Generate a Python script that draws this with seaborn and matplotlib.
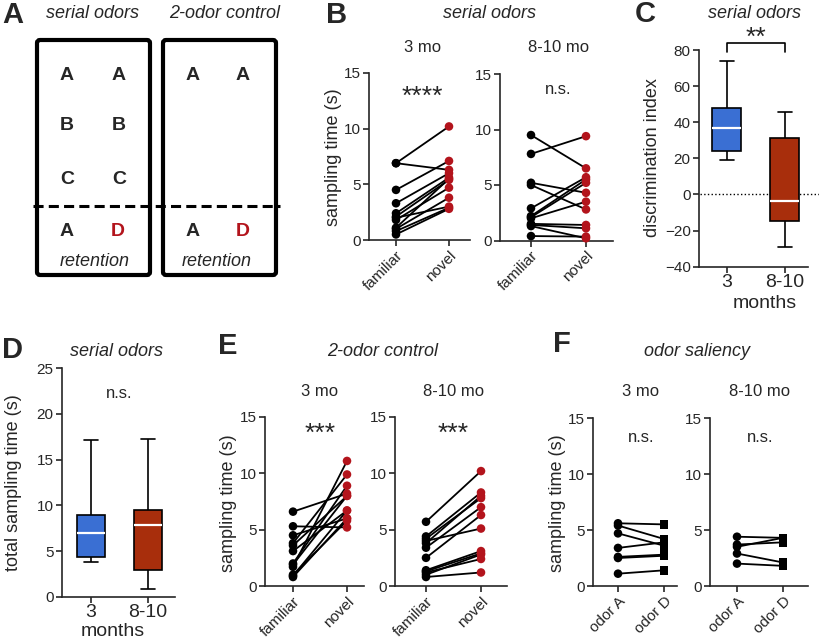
import pandas as pd
import matplotlib.pyplot as plt
import seaborn as sns
from matplotlib.patches import FancyBboxPatch

sns.set_style('ticks')
plt.rcParams['font.family'] = ['Liberation Sans', 'DejaVu Sans']

W, H = 820, 642
BLUE = '#3a6fd3'
RED_BOX = '#a82e0c'
RED = '#b3141c'

# ================= datos =================
# B - serial odors (familiar -> novel), un sujeto por posicion
b3_familiar = [6.9, 6.9, 4.5, 3.3, 2.4, 2.1, 1.8, 1.1, 1.0, 0.8, 0.5, 2.0]
b3_novel = [10.2, 6.3, 7.1, 6.0, 5.6, 5.4, 4.7, 5.5, 3.8, 2.9, 2.8, 3.0]
b8_familiar = [9.5, 7.8, 5.2, 5.0, 2.9, 2.2, 2.1, 2.0, 1.5, 1.4, 0.4, 1.3]
b8_novel = [6.5, 9.4, 4.3, 2.8, 5.7, 5.5, 5.2, 3.5, 1.4, 1.1, 0.35, 0.2]

# E - 2-odor control
e3_familiar = [6.6, 5.3, 4.5, 3.8, 3.6, 3.1, 2.0, 1.7, 1.0, 0.8, 1.9, 0.9]
e3_novel = [8.2, 5.2, 6.0, 9.9, 8.0, 6.7, 8.9, 11.1, 5.8, 6.0, 8.0, 6.7]
e8_familiar = [5.7, 4.4, 4.2, 3.8, 3.4, 2.5, 4.0, 1.4, 1.3, 1.2, 0.8, 1.0]
e8_novel = [10.2, 8.3, 7.8, 8.0, 7.0, 6.3, 5.1, 3.1, 2.9, 2.4, 1.2, 2.8]

# F - odor saliency
f3_odorA = [5.6, 5.4, 4.7, 3.4, 2.6, 2.5, 1.1]
f3_odorD = [5.5, 4.2, 3.6, 3.9, 2.8, 2.7, 1.4]
f8_odorA = [4.4, 3.7, 3.5, 2.9, 2.0]
f8_odorD = [4.3, 3.9, 4.3, 2.1, 1.8]

# C / D - boxplots: [min, q1, mediana, q3, max]
ages = ['3', '8-10']
c_3mo = [19, 24, 37, 48, 74]
c_8mo = [-29, -14.5, -3.5, 31, 45.5]
d_3mo = [3.8, 4.4, 7.0, 8.9, 17.2]
d_8mo = [0.8, 2.9, 7.8, 9.5, 17.3]

fig = plt.figure(figsize=(W / 100, H / 100), dpi=100)

# ======= eje de fondo en pixeles para textos y el esquema A =======
bg = fig.add_axes([0, 0, 1, 1])
bg.set_xlim(0, W)
bg.set_ylim(H, 0)
bg.axis('off')


def txt(x, y, s, **kw):
    kw.setdefault('ha', 'center')
    kw.setdefault('va', 'center')
    bg.text(x, y, s, **kw)


def axes_px(spine_x, end_x, top_y, bottom_y):
    return fig.add_axes([spine_x / W, 1 - bottom_y / H,
                         (end_x - spine_x) / W, (bottom_y - top_y) / H])


def style_axis(ax):
    sns.despine(ax=ax)
    for s in ('left', 'bottom'):
        ax.spines[s].set_linewidth(1.2)
    ax.tick_params(length=4, width=1.2, labelsize=11, pad=2)
    ax.set_xlabel('')
    ax.set_ylabel('')


# ======================= Panel A =======================
for x0 in (37, 163):
    bg.add_patch(FancyBboxPatch((x0, 40), 113, 235,
                                boxstyle='round,pad=0,rounding_size=3',
                                lw=3, ec='black', fc='none'))
bg.plot([33, 280], [206, 206], ls=(0, (3.3, 1.7)), lw=2.2, color='black')
for y, lt in zip([75, 125, 179], ['A', 'B', 'C']):
    txt(67, y, lt, fontsize=14, weight='bold')
    txt(119, y, lt, fontsize=14, weight='bold')
txt(193, 75, 'A', fontsize=14, weight='bold')
txt(243, 75, 'A', fontsize=14, weight='bold')
for xa, xd in ((67, 118), (193, 243)):
    txt(xa, 232, 'A', fontsize=14, weight='bold')
    txt(xd, 232, 'D', fontsize=14, weight='bold', color=RED)
txt(95, 261, 'retention', fontsize=13, style='italic')
txt(217, 261, 'retention', fontsize=13, style='italic')
txt(93, 14, 'serial odors', fontsize=13, style='italic')
txt(225, 14, '2-odor control', fontsize=13, style='italic')

# letras de panel y titulos
for x, y, lt in [(13, 15, 'A'), (337, 15, 'B'), (645, 14, 'C'),
                 (13, 350, 'D'), (228, 346, 'E'), (562, 344, 'F')]:
    txt(x, y, lt, fontsize=21, weight='bold')
txt(490, 14, 'serial odors', fontsize=13, style='italic')
txt(755, 14, 'serial odors', fontsize=13, style='italic')
txt(117, 351, 'serial odors', fontsize=13, style='italic')
txt(383, 351, '2-odor control', fontsize=13, style='italic')
txt(697, 352, 'odor saliency', fontsize=13, style='italic')


# ================= paneles pareados =================
def paired(geom, first, second, labels, sub, stat, stat_y, marker2='o'):
    spine, end, c0, c1, y0, y15 = geom
    ax = axes_px(spine, end, y15, y0)
    n = len(first)
    df = pd.DataFrame({
        'sujeto': list(range(n)) * 2,
        'cond': [labels[0]] * n + [labels[1]] * n,
        'valor': list(first) + list(second),
    })
    sns.lineplot(data=df, x='cond', y='valor', units='sujeto', estimator=None,
                 color='black', lw=1.3, sort=False, ax=ax)
    sns.scatterplot(data=df, x='cond', y='valor', hue='cond', style='cond',
                    palette={labels[0]: 'black', labels[1]: RED if marker2 == 'o' else 'black'},
                    markers={labels[0]: 'o', labels[1]: marker2},
                    s=38, linewidth=0, legend=False, ax=ax, zorder=3, clip_on=False)
    sp = c1 - c0
    ax.set_xlim((spine - c0) / sp, (end - c0) / sp)
    ax.set_ylim(0, 15)
    ax.set_yticks([0, 5, 10, 15])
    ax.set_xticks([0, 1])
    ax.set_xticklabels(labels, rotation=45, ha='right', va='top',
                       rotation_mode='anchor', fontsize=11.5)
    style_axis(ax)
    big = stat.startswith('*')
    ax.text(0.5, stat_y, stat, ha='center', va='center',
            fontsize=19 if big else 12)
    bg.text((c0 + c1) / 2, y15 - 26, sub, ha='center', va='center', fontsize=12)
    return ax


paired((369, 470, 396, 449, 240, 73), b3_familiar, b3_novel,
       ['familiar', 'novel'], '3 mo', '****', 12.9)
paired((500, 613, 531, 586, 240.5, 74), b8_familiar, b8_novel,
       ['familiar', 'novel'], '8-10 mo', 'n.s.', 13.6)
paired((265, 364, 293, 347, 586, 417), e3_familiar, e3_novel,
       ['familiar', 'novel'], '3 mo', '***', 13.5)
paired((395, 507, 426, 481, 586, 417), e8_familiar, e8_novel,
       ['familiar', 'novel'], '8-10 mo', '***', 13.5)
paired((593, 677, 618, 664, 586, 418), f3_odorA, f3_odorD,
       ['odor A', 'odor D'], '3 mo', 'n.s.', 13.3, marker2='s')
paired((710, 808, 737, 783, 586, 418), f8_odorA, f8_odorD,
       ['odor A', 'odor D'], '8-10 mo', 'n.s.', 13.3, marker2='s')

txt(334, 157, 'sampling time (s)', fontsize=13, rotation=90)
txt(229, 503, 'sampling time (s)', fontsize=13, rotation=90)
txt(558, 503, 'sampling time (s)', fontsize=13, rotation=90)


# ================= boxplots =================
def boxes(geom, v3, v8, ylim, yticks):
    spine, end, c0, c1, ytop, ybot = geom
    ax = axes_px(spine, end, ytop, ybot)
    df = pd.DataFrame({'edad': [ages[0]] * len(v3) + [ages[1]] * len(v8),
                       'valor': list(v3) + list(v8)})
    sns.boxplot(data=df, x='edad', y='valor', hue='edad', palette=[BLUE, RED_BOX],
                saturation=1, width=0.5, whis=(0, 100), linecolor='black',
                linewidth=1.2, medianprops={'color': 'white', 'linewidth': 1.6},
                showfliers=False, legend=False, ax=ax)
    sp = c1 - c0
    ax.set_xlim((spine - c0) / sp, (end - c0) / sp)
    ax.set_ylim(*ylim)
    ax.set_yticks(yticks)
    style_axis(ax)
    ax.tick_params(axis='x', labelsize=14, pad=1)
    return ax


axc = boxes((699, 808, 727, 785, 50, 266.7), c_3mo, c_8mo, (-40, 80),
            [-40, -20, 0, 20, 40, 60, 80])
axc.plot([-0.47, 1.6], [0, 0], ls=':', color='black', lw=1, clip_on=False, zorder=0)
axc.plot([0, 0, 1, 1], [79, 84, 84, 79], color='black', lw=1.2, clip_on=False)
axc.text(0.5, 86.5, '**', ha='center', va='center', fontsize=19, clip_on=False)
txt(765, 303, 'months', fontsize=14)
txt(653, 158, 'discrimination index', fontsize=13, rotation=90)

axd = boxes((62, 175, 91, 148, 368.3, 596.7), d_3mo, d_8mo, (0, 25),
            [0, 5, 10, 15, 20, 25])
axd.text(0.5, 22.2, 'n.s.', ha='center', va='center', fontsize=12)
txt(113, 631, 'months', fontsize=14)
txt(14, 483, 'total sampling time (s)', fontsize=13, rotation=90)

fig.savefig('out.png', dpi=100)
